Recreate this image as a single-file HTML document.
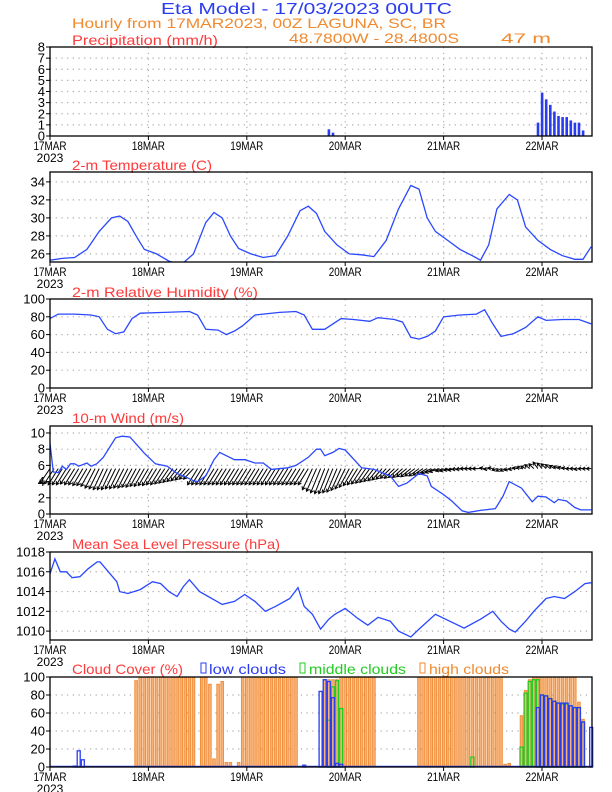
<!DOCTYPE html>
<html><head><meta charset="utf-8"><style>
html,body{margin:0;padding:0;background:#fff;}
svg{display:block;font-family:"Liberation Sans",sans-serif;}
</style></head><body>
<svg id="chart" width="612" height="792" viewBox="0 0 612 792" xmlns="http://www.w3.org/2000/svg">
<text x="161" y="14" font-size="16" fill="#2a3cf0" textLength="291" lengthAdjust="spacingAndGlyphs">Eta Model - 17/03/2023 00UTC</text>
<text x="72" y="28" font-size="14" fill="#f08a30" textLength="374" lengthAdjust="spacingAndGlyphs">Hourly from 17MAR2023, 00Z  LAGUNA,    SC, BR</text>
<text x="72" y="45" font-size="14" fill="#ff3a3a" textLength="146" lengthAdjust="spacingAndGlyphs">Precipitation (mm/h)</text>
<text x="289" y="43" font-size="14" fill="#f08a30" textLength="170" lengthAdjust="spacingAndGlyphs">48.7800W - 28.4800S</text>
<text x="501" y="43" font-size="14" fill="#f08a30" textLength="50" lengthAdjust="spacingAndGlyphs">47  m</text>
<text x="72" y="170" font-size="14" fill="#ff3a3a" textLength="140" lengthAdjust="spacingAndGlyphs">2-m Temperature (C)</text>
<text x="72" y="297" font-size="14" fill="#ff3a3a" textLength="186" lengthAdjust="spacingAndGlyphs">2-m Relative Humidity (%)</text>
<text x="72" y="423" font-size="14" fill="#ff3a3a" textLength="112" lengthAdjust="spacingAndGlyphs">10-m Wind (m/s)</text>
<text x="72" y="549" font-size="14" fill="#ff3a3a" textLength="208" lengthAdjust="spacingAndGlyphs">Mean Sea Level Pressure (hPa)</text>
<text x="72" y="674" font-size="14" fill="#ff3a3a" textLength="111" lengthAdjust="spacingAndGlyphs">Cloud Cover (%)</text>
<rect x="201" y="663" width="5" height="10" fill="none" stroke="#2a3cf0" stroke-width="1"/>
<text x="209" y="674" font-size="14" fill="#2a3cf0" textLength="77" lengthAdjust="spacingAndGlyphs">low clouds</text>
<rect x="300" y="663" width="5" height="10" fill="none" stroke="#22cc22" stroke-width="1"/>
<text x="309" y="674" font-size="14" fill="#22cc22" textLength="97" lengthAdjust="spacingAndGlyphs">middle clouds</text>
<rect x="420" y="663" width="5" height="10" fill="none" stroke="#f08a30" stroke-width="1"/>
<text x="429" y="674" font-size="14" fill="#f08a30" textLength="80" lengthAdjust="spacingAndGlyphs">high clouds</text>
<g id="plots"></g>
</svg>
<script>
// ---- data ----
const dayLabels = ["17MAR","18MAR","19MAR","20MAR","21MAR","22MAR"];
const dayHours = [0,24,48,72,96,120];
const precipHours = [24,68,69,119,120,121,122,123,124,125,126,127,128,129,130,132];
const precipValues = [0.05,0.6,0.3,1.2,3.9,3.3,2.8,2.2,1.8,1.7,1.7,1.4,1.2,1.2,0.5,0.05];
const tempHours = [0,3,6,9,12,15,17,19,21,23,26,29,32,35,38,40,42,44,46,49,52,55,58,61,63,65,67,70,73,76,79,82,85,88,90,92,94,97,100,103,105,107,109,112,114,116,119,122,125,128,130,132];
const tempValues = [25.3,25.5,25.6,26.5,28.5,30,30.2,29.6,28,26.5,26,25.2,24.8,26,29.5,30.6,30,28,26.6,26,25.6,25.8,28,30.8,31.3,30.5,28.5,27,26,25.9,25.7,27.5,31,33.6,33.2,30,28.5,27.5,26.5,25.8,25.3,27,31,32.6,32,29,27.5,26.5,25.8,25.4,25.4,26.8];
const rhHours = [0,2,6,10,12,14,16,18,20,22,28,34,36,38,41,43,45,47,50,56,60,62,64,67,69,71,74,78,80,84,86,88,90,92,94,96,100,104,106,108,110,113,116,119,121,125,129,132];
const rhValues = [78,83,83,82,80,66,61,63,78,84,85,86,82,66,65,60,64,70,82,85,86,82,66,66,72,78,77,75,79,77,74,57,55,58,64,80,82,83,88,72,58,61,68,80,76,77,77,72];
const windHours = [0,0.8,2,3,4,5,6,7,9,10,11.4,13,16,17.6,19.5,23,25.7,28.6,31,33,35,36,38,40,41.4,43,45,47.6,50,52,54,58,60,63,65,66,67,69,70.5,72,76,79,83,85,87,90,92,93,96,98,100.5,102,105,108.6,110.5,112,115,117.6,119,121,123,124,126,128,129.5,132];
const windSpeed = [8.7,5.2,5.1,5.9,5.5,6.2,6.2,5.9,6.3,5.9,6.2,7,9.4,9.6,9.5,7.5,6.2,5.9,5,4.6,4.1,4,4.7,6.7,7.6,7.2,6.7,6.7,6.3,6.3,5.5,5.7,6,7,8,8,7.2,7.6,8.1,7.9,5.7,5.5,4.7,3.4,3.8,5,4.7,3.4,2.4,1.6,0.4,0.2,0.45,0.65,2.2,4,3.2,1.5,2.2,2.1,1.4,1.8,1.6,0.8,0.5,0.5];
const windV = [-1.8,-1.9,-2.0,-2.0,-2.0,-1.9,-2.0,-2.0,-2.1,-2.1,-2.2,
 -2.4,-2.5,-2.6,-2.6,-2.6,-2.5,-2.5,-2.4,-2.4,
 -2.3,-2.3,-2.2,-2.2,-2.1,-2.1,-2.0,-2.0,-1.9,-1.8,-1.7,-1.6,-1.5,-1.4,-1.3,-1.3,
 -2.0,-2.0,-2.0,-2.0,-2.0,-2.0,-2.0,-2.0,-2.0,-2.0,-2.0,-2.0,-2.0,-2.0,-2.0,-2.0,-2.0,-2.0,-2.0,-2.0,-2.0,-2.0,-2.0,-2.0,-2.0,-2.0,-2.0,-2.0,
 -2.6,-2.8,-3.0,-3.1,-3.1,-3.0,-2.9,-2.7,-2.5,-2.3,-2.1,-2.0,
 -1.9,-1.8,-1.7,-1.6,-1.5,-1.4,-1.3,-1.2,-1.2,-1.1,-1.1,-1.0,
 -1.0,-0.9,-0.9,-0.8,-0.7,-0.6,-0.5,-0.4,
 -0.3,-0.3,-0.2,-0.2,-0.1,-0.1,0,0,0,0,
 0.1,-0.1,0.1,-0.2,-0.3,-0.3,-0.2,-0.1,0.1,0.2,0.3,0.5,0.6,0.8,0.7,0.6,0.5,0.4,0.3,0.2,0.1,0,0,-0.1,0,0,0];
const windU = [-2.5,-2.5,-2.5,-2.5,-2.5,-2.5,-2.5,-2.5,-2.5,-2.5,-2.5,-2.5,-2.5,-2.5,-2.5,-2.5,-2.5,-2.5,-2.5,-2.5,
 -2.5,-2.5,-2.5,-2.5,-2.5,-2.5,-2.5,-2.5,-2.5,-2.5,-2.5,-2.5,-2.5,-2.5,-2.5,-2.5,-2.5,-2.5,-2.5,-2.5,
 -2.5,-2.5,-2.5,-2.5,-2.5,-2.5,-2.5,-2.5,-2.5,-2.5,-2.5,-2.5,-2.5,-2.5,-2.5,-2.5,-2.5,-2.5,-2.5,-2.5,
 -2.5,-2.5,-2.5,-2.5,-2.5,-2.5,-2.5,-2.5,-2.5,-2.5,-2.5,-2.5,-2.5,-2.5,-2.5,-2.5,-2.5,-2.5,-2.5,-2.5,
 -2.5,-2.5,-2.5,-2.5,-2.5,-2.5,-2.5,-2.5,-2.5,-2.5,-2.5,-2.5,-2.5,-2.5,-2.5,-2.5,
 -2,-2,-2,-2,-2,-2,-2,-2,-2,-2,
 -1.2,-1.2,-1.2,-1.2,-1.2,-1.2,-1.2,-1.2,-1.2,-1.2,-1.2,-1.2,-1.2,-1.2,-1.2,-1.2,-1.2,-1.2,-1.2,-1.2,-1.2,-1.2,-1.2,-1.2,-1.2,-1.2,-1.2];
const pressHours = [0,1.2,2.5,4,5.4,7.3,9.3,11.5,12.2,16.3,17,19,22,25,27,29,31,32.5,34,36.5,42,45,47.5,50,52.5,55,58.5,60.5,62,64,66,68,69.5,72,75,77.5,80,83,85,88,90,94,97.5,101,105,108,110,112,113.5,116,118,121,123,125.5,128,130.5,132];
const pressValues = [1015.8,1017.3,1016,1016,1015.4,1015.5,1016.3,1017,1017,1015,1014,1013.8,1014.2,1015,1014.8,1014,1013.5,1014.5,1015.2,1014,1012.7,1013,1013.7,1013,1012,1012.5,1013.3,1014.4,1012.5,1011.7,1010.2,1011.2,1011.7,1012.3,1011.3,1010.6,1011.4,1011,1010,1009.4,1010.2,1011.7,1011,1010.3,1011.2,1012,1011,1010.2,1009.9,1011,1012,1013.3,1013.5,1013.3,1014,1014.8,1014.9];
const highHours = [21,22,23,24,25,26,27,28,29,30,31,32,33,34,35,37,38,39,40,41,42,43,44,46,47,48,49,50,51,52,53,54,55,56,57,58,59,60,67,68,69,70,71,72,73,74,75,76,77,78,79,90,91,92,93,94,95,96,97,98,99,100,101,102,103,104,105,106,107,108,109,110,111,112,115,116,117,118,119,120,121,122,123,124,125,126,127,128,129,130];
const highValues = [96,100,100,100,100,100,100,100,100,100,100,100,100,100,100,100,100,92,9,92,95,5,5,5,100,100,100,100,100,100,100,100,100,100,100,100,100,100,97,97,97,97,100,100,100,100,100,100,100,100,100,100,100,100,100,100,100,100,100,100,100,100,100,100,100,100,100,100,100,100,100,100,3,4,57,85,97,100,100,100,100,100,100,100,100,100,100,100,72,53];
const midHours = [68,69,70,71,103,115,116,117,118,119,120,121,122,123,124,125,126,127,128,129,130];
const midValues = [52,89,96,65,11,22,82,95,97,97,80,79,76,73,71,70,70,68,66,66,50];
const lowHours = [6,7,8,62,66,67,68,69,70,71,119,120,121,122,123,124,125,126,127,128,129,130,132];
const lowValues = [1,18,8,2,84,97,95,77,4,3,66,80,79,76,73,71,71,71,68,66,66,50,44];

// ---- axes ----
const X0 = 50, HOUR_PX = 4.1, XMAX = 592;
const xOf = h => X0 + h * HOUR_PX;
function yScale(p){ return v => p.bottom - (v - p.min) / (p.max - p.min) * (p.bottom - p.top); }
const panels = {
  precip:{top:47,bottom:136,min:0,max:8,ticks:[0,1,2,3,4,5,6,7,8],grid:[1,2,3,4,5,6,7]},
  temp:{top:172,bottom:262,min:25.1,max:35.1,ticks:[26,28,30,32,34],grid:[26,28,30,32,34]},
  rh:{top:299,bottom:388,min:0,max:100,ticks:[0,20,40,60,80,100],grid:[20,40,60,80]},
  wind:{top:426,bottom:514,min:0,max:10.86,ticks:[0,2,4,6,8,10],grid:[2,4,6,8,10]},
  press:{top:552,bottom:640,min:1009.1,max:1018,ticks:[1010,1012,1014,1016,1018],grid:[1010,1012,1014,1016]},
  cloud:{top:677,bottom:767,min:0,max:100,ticks:[0,20,40,60,80,100],grid:[20,40,60,80]}
};
const NS = "http://www.w3.org/2000/svg";
const root = document.getElementById('plots');
function mk(tag, attrs, parent){ const e=document.createElementNS(NS,tag); for(const k in attrs) e.setAttribute(k,attrs[k]); (parent||root).appendChild(e); return e; }

for (const key in panels){
  const p = panels[key], y = yScale(p);
  const g = mk('g',{});
  
  
  p.g = g; p.y = y;
  p.grid.forEach(v=>{
    const l = mk('line',{x1:X0,x2:XMAX,y1:y(v),y2:y(v),stroke:'#aaa','stroke-width':1.2,'stroke-dasharray':'1.2 4.5'},g);
    
    
  });
  dayHours.forEach((h,i)=>{
    if(i>0){ const l = mk('line',{x1:xOf(h),x2:xOf(h),y1:p.top,y2:p.bottom,stroke:'#aaa','stroke-width':1.2,'stroke-dasharray':'1.2 4.5'},g);
      
       }
    mk('line',{x1:xOf(h),x2:xOf(h),y1:p.bottom,y2:p.bottom+4,stroke:'#000','stroke-width':1},g);
    const t = mk('text',{x:xOf(h),y:p.bottom+14,'font-size':12,'text-anchor':'middle',fill:'#000',textLength:33,lengthAdjust:'spacingAndGlyphs'},g);
    t.textContent = dayLabels[i];
    
    
  });
  const yr = mk('text',{x:X0,y:p.bottom+26,'font-size':12,'text-anchor':'middle',fill:'#000'},g);
  yr.textContent = '2023';
  
  
  p.ticks.forEach(v=>{
    mk('line',{x1:X0-4,x2:X0,y1:y(v),y2:y(v),stroke:'#000','stroke-width':1},g);
    const t = mk('text',{x:X0-5,y:y(v)+4.5,'font-size':13,'text-anchor':'end',fill:'#000'},g);
    t.textContent = v;
    
    
  });
}
function frame(p,key){
  const r = mk('rect',{x:X0,y:p.top,width:XMAX-X0,height:p.bottom-p.top,fill:'none',stroke:'#000','stroke-width':1.3},p.g);
  
  
}
function line(p,key,hs,vs,color){
  const clip = mk('clipPath',{id:'clip-'+key},p.g);
  mk('rect',{x:X0,y:p.top,width:XMAX-X0,height:p.bottom-p.top},clip);
  const d = hs.map((h,i)=>(i?'L':'M')+xOf(h).toFixed(1)+','+p.y(vs[i]).toFixed(1)).join(' ');
  const l = mk('path',{d:d,fill:'none',stroke:color,'stroke-width':1.3,'clip-path':'url(#clip-'+key+')'},p.g);
  
  
}
// precipitation bars
(function(){
  const p = panels.precip;
  precipHours.forEach((h,i)=>{
    const b = mk('rect',{x:xOf(h)-1.2,y:p.y(precipValues[i]),width:2.6,height:p.bottom-p.y(precipValues[i]),fill:'#2a3cf0'},p.g);
    
    
  });
  frame(p,'precip');
})();
line(panels.temp,'temp',tempHours,tempValues,'#2a48ff'); frame(panels.temp,'temp');
line(panels.rh,'rh',rhHours,rhValues,'#2a48ff'); frame(panels.rh,'rh');
// wind
(function(){
  const p = panels.wind, base = 5.6;
  windV.forEach((v,h)=>{
    const x1 = xOf(h), y1 = p.y(base), x2 = x1 + windU[h]*4, y2 = p.y(base + v);
    const dx = x2-x1, dy = y2-y1, len = Math.hypot(dx,dy)||1, ux=dx/len, uy=dy/len, hl=Math.min(3,len*0.6);
    const d = `M${x1.toFixed(1)},${y1.toFixed(1)} L${x2.toFixed(1)},${y2.toFixed(1)} M${(x2-hl*ux-hl*0.6*uy).toFixed(1)},${(y2-hl*uy+hl*0.6*ux).toFixed(1)} L${x2.toFixed(1)},${y2.toFixed(1)} L${(x2-hl*ux+hl*0.6*uy).toFixed(1)},${(y2-hl*uy-hl*0.6*ux).toFixed(1)}`;
    const a = mk('path',{d:d,fill:'none',stroke:'#000','stroke-width':1},p.g);
    
    
  });
  line(p,'wind',windHours,windSpeed,'#2a48ff');
  frame(p,'wind');
})();
line(panels.press,'press',pressHours,pressValues,'#2a48ff'); frame(panels.press,'press');
// clouds
(function(){
  const p = panels.cloud;
  highHours.forEach((h,i)=>{
    const b = mk('rect',{x:xOf(h)-1.3,y:p.y(highValues[i]),width:2.6,height:p.bottom-p.y(highValues[i]),fill:'#f7b27a',stroke:'#f08a30','stroke-width':0.9},p.g);
    
    
  });
  midHours.forEach((h,i)=>{
    const b = mk('rect',{x:xOf(h)-1.5,y:p.y(midValues[i]),width:3,height:p.bottom-p.y(midValues[i]),fill:'none',stroke:'#22cc22','stroke-width':1.3},p.g);
    
    
  });
  lowHours.forEach((h,i)=>{
    const b = mk('rect',{x:xOf(h)-1.5,y:p.y(lowValues[i]),width:3,height:p.bottom-p.y(lowValues[i]),fill:'none',stroke:'#2a3cf0','stroke-width':1.3},p.g);
    
    
  });
  mk('line',{x1:X0,x2:XMAX,y1:p.bottom-0.5,y2:p.bottom-0.5,stroke:'#2a3cf0','stroke-width':1.5},p.g);
  frame(p,'cloud');
})();
</script>
</body></html>
